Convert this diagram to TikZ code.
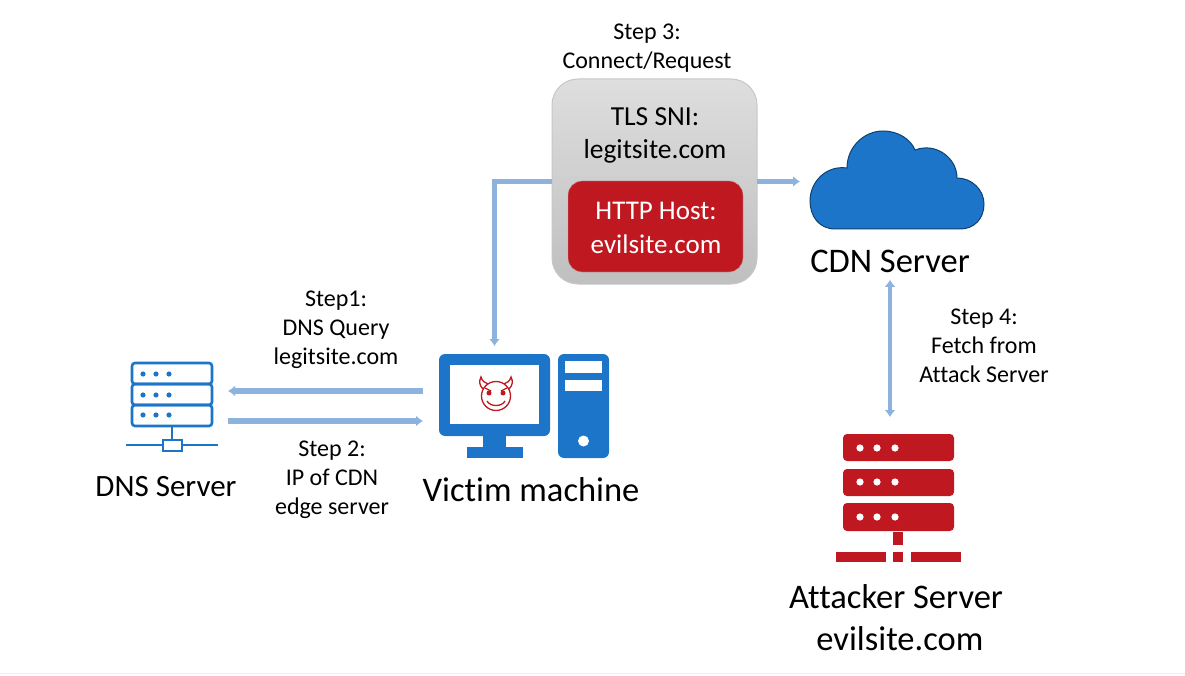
\documentclass[tikz,border=0pt]{standalone}
\usepackage{fontspec}
\setmainfont[Ligatures=NoCommon]{Carlito}
\usetikzlibrary{arrows.meta}
\definecolor{iconblue}{HTML}{1C75C8}
\definecolor{evilred}{HTML}{C01820}
\definecolor{flowblue}{HTML}{8DB3DC}
\tikzset{
    flow/.style={draw=flowblue, line width=4.5pt, -{Latex[length=7pt,width=11pt]}},
    iconbox/.style={rectangle, inner sep=0pt, outer sep=0pt},
    steplabel/.style={align=center, font=\fontsize{24}{29}\selectfont},
    boxlabel/.style={align=center, font=\fontsize{27.5}{33}\selectfont},
    hostlabel/.style={align=center, text=white, font=\fontsize{27}{34}\selectfont},
    iconlabel/.style={align=center, font=\fontsize{34.5}{42}\selectfont}
}
\begin{document}
\begin{tikzpicture}[x=1pt,y=-1pt]
    \useasboundingbox (0,0) rectangle (1185,676);
    \draw[gray!15, line width=1pt] (0,673) -- (1185,673);

    % request box
    \node[iconbox, draw=black!22, line width=1pt, top color=black!13, bottom color=black!25,
        rounded corners=26pt, minimum width=205pt, minimum height=205pt] (sni) at (654.5,181.5) {};
    \node[iconbox, draw=black!30, fill=evilred, rounded corners=14pt,
        minimum width=175pt, minimum height=91pt] (host) at (655.5,226.5) {};
    \node[boxlabel] (snitext) at (655,135) {TLS SNI:\\legitsite.com};
    \node[hostlabel] (hosttext) at (656,228) {HTTP Host:\\evilsite.com};

    % DNS server
    \node[iconbox, minimum width=92pt, minimum height=88pt] (dns) at (172,407) {};
    \begin{scope}[draw=iconblue, line width=2.6pt]
        \foreach \ytop/\ybot in {363/384, 384/405, 405/426} {
            \draw[rounded corners=3pt] (132,\ytop) rectangle (212,\ybot);
        }
        \foreach \ydot in {374,395,415} {
            \foreach \xdot in {143,156,169} {
                \fill[iconblue] (\xdot,\ydot) circle (2.6pt);
            }
        }
        \draw (172,426) -- (172,440);
        \draw (126,445) -- (163,445) (182,445) -- (218,445);
        \draw (163,440) rectangle (182,451);
    \end{scope}

    % victim machine
    \node[iconbox, fill=iconblue, rounded corners=6pt, minimum width=111pt, minimum height=82pt] (monitor) at (494.5,395) {};
    \node[iconbox, fill=white, minimum width=89pt, minimum height=59pt] (screen) at (494.5,394.5) {};
    \fill[iconblue] (483,436) rectangle (506,447);
    \fill[iconblue] (467,447) rectangle (523,458);
    \node[iconbox, fill=iconblue, rounded corners=6pt, minimum width=51pt, minimum height=104pt] (tower) at (583.5,406) {};
    \fill[white] (565,361) rectangle (602,373);
    \fill[white] (565,380) rectangle (602,391);
    \fill[white] (583.5,441) circle (5.5pt);

    % devil face
    \begin{scope}[draw=evilred, line width=1.3pt]
        \draw (496,396) circle (14.5pt);
        \draw (483,389) .. controls (479,385) and (479,381) .. (481,377) .. controls (482,381) and (485,383) .. (488,384);
        \draw (509,389) .. controls (513,385) and (513,381) .. (511,377) .. controls (510,381) and (507,383) .. (504,384);
        \draw (487,401) .. controls (490,407) and (502,407) .. (505,401);
        \draw (485,388) -- (491,391) (507,388) -- (501,391);
        \fill[evilred] (489,393) circle (2.5pt) (503,393) circle (2.5pt);
    \end{scope}

    % CDN cloud
    \node[iconbox, minimum width=174pt, minimum height=98pt] (cloud) at (897,180) {};
    \draw[fill=iconblue, draw=black!45!iconblue, line width=1pt]
        (835,229) .. controls (819,229) and (810,216) .. (810,201)
        .. controls (810,182) and (826,165) .. (847,168)
        .. controls (847,147) and (864,131) .. (883,131)
        .. controls (899,131) and (911,140) .. (915,150)
        .. controls (936,142) and (957,158) .. (957,178)
        .. controls (972,178) and (984,190) .. (984,204)
        .. controls (984,219) and (974,229) .. (960,229) -- cycle;

    % attacker server
    \node[iconbox, minimum width=125pt, minimum height=128pt] (attacker) at (898.5,498) {};
    \foreach \ytop/\ybot/\ydot in {434/461/448, 469/496/482, 503/531/517} {
        \fill[evilred, rounded corners=4pt] (843,\ytop) rectangle (954,\ybot);
        \foreach \xdot in {860,877,895} {
            \fill[white] (\xdot,\ydot) circle (3.6pt);
        }
    }
    \fill[evilred] (893,532) rectangle (903,545);
    \fill[evilred] (836,552) rectangle (886,562);
    \fill[evilred] (893,552) rectangle (903,562);
    \fill[evilred] (911,552) rectangle (961,562);

    % labels
    \node[steplabel] (step3) at (647,48) {Step 3:\\Connect/Request};
    \node[steplabel] (step1) at (336,330) {Step1:\\DNS Query\\legitsite.com};
    \node[steplabel] (step2) at (332,480) {Step 2:\\IP of CDN\\edge server};
    \node[steplabel] (step4) at (984,346) {Step 4:\\Fetch from\\Attack Server};
    \node[iconlabel, font=\fontsize{31}{36}\selectfont] (dnstext) at (166,487) {DNS Server};
    \node[iconlabel] (victimtext) at (531,490) {Victim machine};
    \node[iconlabel] (cdntext) at (890,261) {CDN Server};
    \node[iconlabel] (attackertext) at (896,618) {Attacker Server\\\ evilsite.com};

    % connectors
    \draw[flow, line width=5.5pt] ([xshift=-16pt,yshift=4pt]monitor.west) -- ([xshift=10pt,yshift=16pt]dns.east);
    \draw[flow, line width=5.5pt] ([xshift=10pt,yshift=-14pt]dns.east) -- ([xshift=-16pt,yshift=-26pt]monitor.west);
    \draw[flow, shorten >=8pt] (sni.west) -| (monitor.north);
    \draw[flow, shorten >=10pt] (sni.east) -- (sni.east -| cloud.west);
    \draw[flow, {Latex[length=7pt,width=11pt]}-{Latex[length=7pt,width=11pt]}, shorten <=4pt, shorten >=17pt]
        (cdntext.south) -- (cdntext.south |- attacker.north);
\end{tikzpicture}
\end{document}
